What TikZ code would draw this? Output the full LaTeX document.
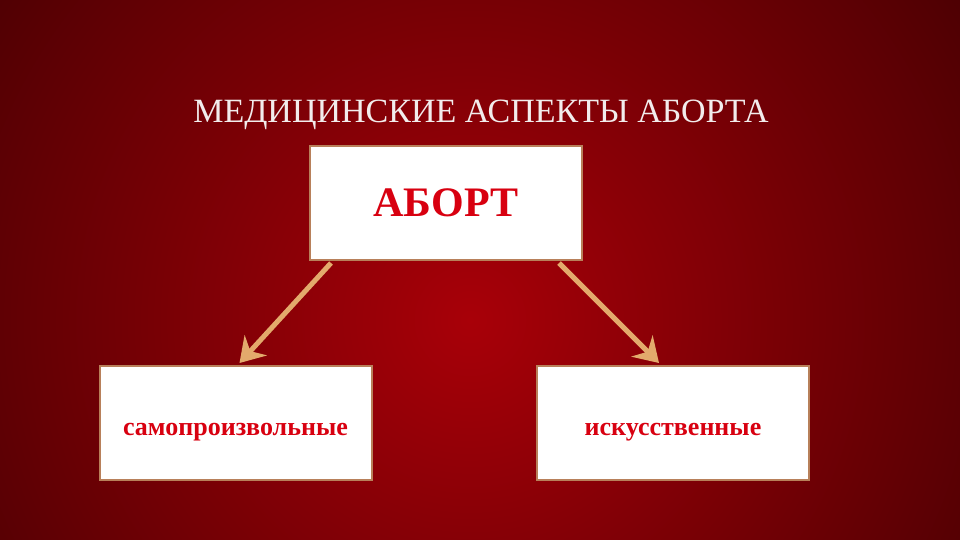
\documentclass[tikz,border=0pt]{standalone}
\usepackage{xcolor}
\usepackage{fontspec}
\setmainfont{Liberation Serif}
\usepackage{tikz}
\usetikzlibrary{arrows.meta, positioning, calc}
\definecolor{bgin}{HTML}{A80008}
\definecolor{bgout}{HTML}{1E0000}
\definecolor{titlegray}{HTML}{F2ECEC}
\definecolor{boxline}{HTML}{B8805A}
\definecolor{arrowtan}{HTML}{E3AA6C}
\definecolor{wordred}{HTML}{D80010}
\tikzstyle{arrow} = [line width=2.5pt, draw=arrowtan, -{Stealth[length=12pt, width=15pt, inset=4pt]}]
\tikzstyle{kindbox} = [rectangle, minimum width=136pt, minimum height=57pt, text centered, draw=boxline, line width=1pt, fill=white, text=wordred, font=\fontsize{13}{15}\selectfont\bfseries]

\begin{document}
\begin{tikzpicture}[x=0.5pt, y=-0.5pt]

% background
\useasboundingbox (0,0) rectangle (960,540);
\begin{scope}
  \clip (0,0) rectangle (960,540);
  \shade[inner color=bgin, outer color=bgout] (470,320) circle (900);
\end{scope}

\node[text=titlegray, font=\fontsize{17}{20}\selectfont] (title) at (481,115) {МЕДИЦИНСКИЕ АСПЕКТЫ АБОРТА};

\node[kindbox, font=\fontsize{21}{24}\selectfont\bfseries] (abort) at (446,203) {АБОРТ};
\node[kindbox, text height=12pt, text depth=0pt] (spont) at (235.5,423) {самопроизвольные};
\node[kindbox, text height=12pt, text depth=0pt] (induced) at (673,423) {искусственные};

\draw[arrow] ([xshift=11pt, yshift=-1pt]abort.south west) -- ([xshift=70.5pt, yshift=1pt]spont.north west);
\draw[arrow] ([xshift=-12pt, yshift=-1pt]abort.south east) -- ([xshift=61.5pt, yshift=1pt]induced.north west);

\end{tikzpicture}
\end{document}
